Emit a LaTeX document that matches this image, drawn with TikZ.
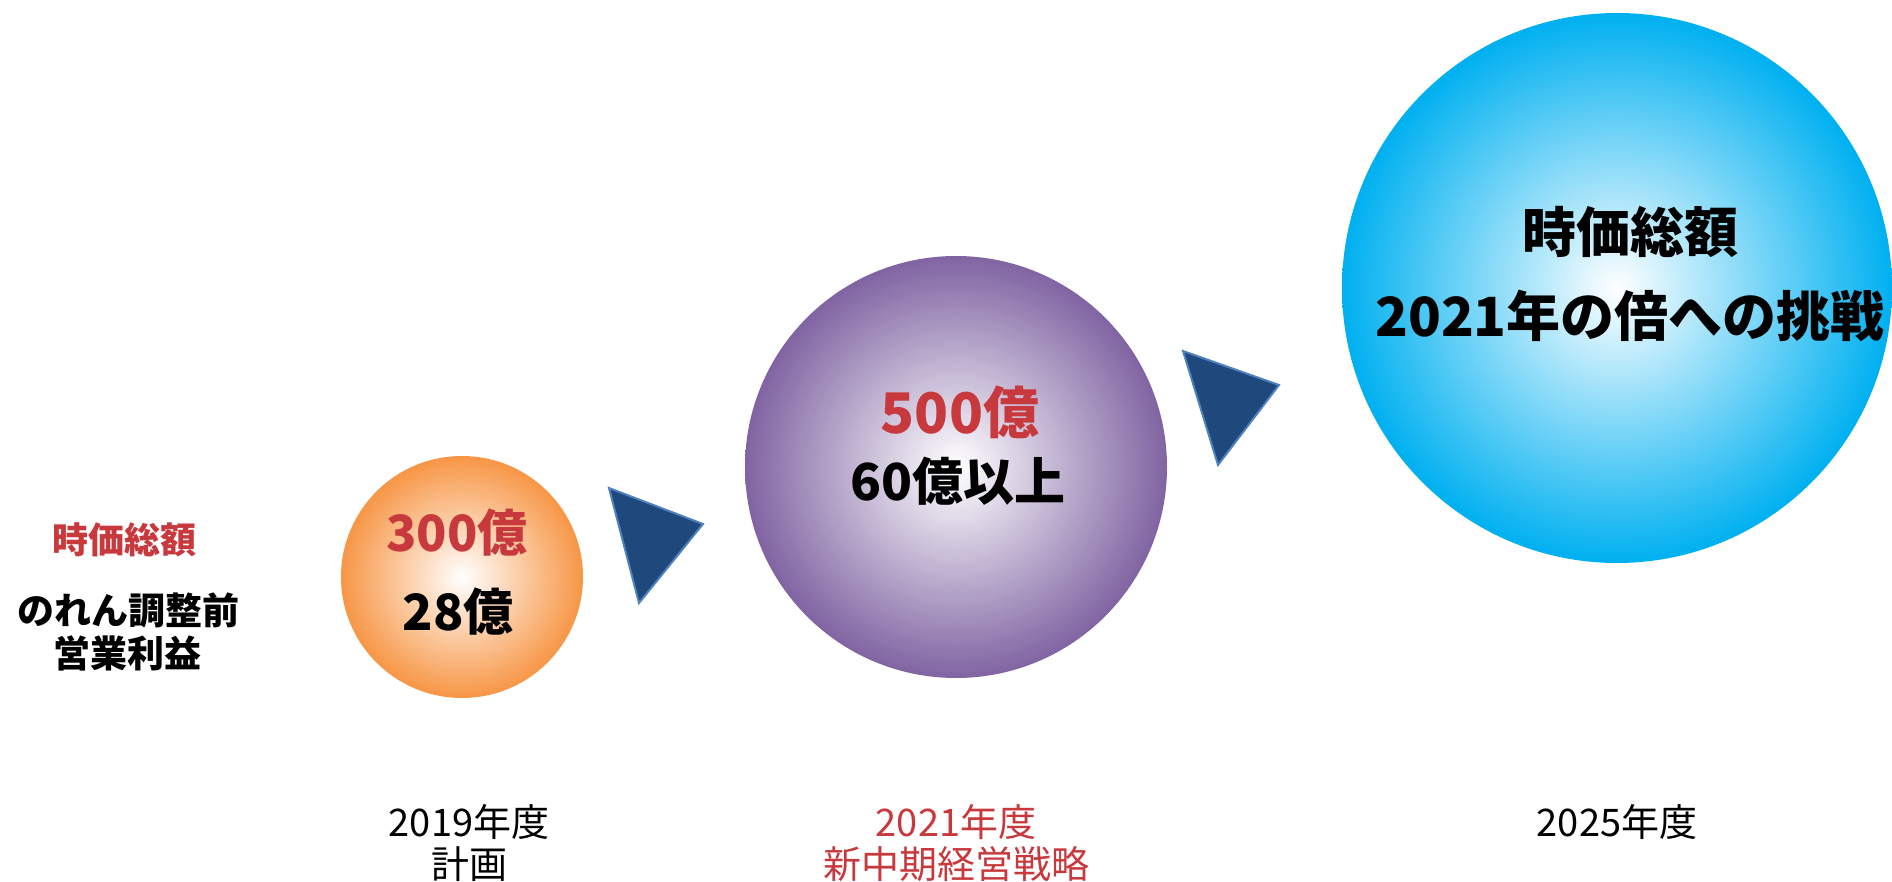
\documentclass[tikz,border=0pt]{standalone}
\usepackage{fontspec}
\newfontfamily\jp{Noto Sans CJK JP}
\definecolor{redtxt}{HTML}{C8393D}
\definecolor{orangeorb}{HTML}{F79646}
\definecolor{purpleorb}{HTML}{8064A2}
\definecolor{blueorb}{HTML}{00B0F0}
\definecolor{trifill}{HTML}{1F497D}
\definecolor{triedge}{HTML}{4F81BD}
\tikzset{
  orb/.style={circle, inner sep=0pt, draw=none, shading=radial, inner color=white, outer color=#1},
  lbl/.style={inner sep=0pt, font=\jp\bfseries},
  yearlbl/.style={inner sep=0pt, font=\jp\fontsize{19}{22}\selectfont},
  tri/.style={fill=trifill, draw=triedge, line width=1pt, line join=miter}
}
\begin{document}
\begin{tikzpicture}[x=0.5pt, y=-0.5pt]
\useasboundingbox (0,0) rectangle (1892,882);

% left labels
\node[lbl, text=redtxt, font=\jp\bfseries\fontsize{18}{20}\selectfont] (mcap) at (125,540) {時価総額};
\node[lbl, font=\jp\bfseries\fontsize{18.5}{21}\selectfont] (op1) at (129,610) {のれん調整前};
\node[lbl, font=\jp\bfseries\fontsize{18.5}{21}\selectfont] (op2) at (128,653) {営業利益};

% orbs
\node[orb=orangeorb, minimum size=242pt*0.5] (o1) at (462,577) {};
\node[orb=purpleorb, minimum size=422pt*0.5] (o2) at (956,467) {};
\node[orb=blueorb, minimum size=550pt*0.5] (o3) at (1617,288) {};

% orb texts
\node[lbl, text=redtxt, font=\jp\bfseries\fontsize{25}{28}\selectfont] (t1a) at (457,533) {300億};
\node[lbl, font=\jp\bfseries\fontsize{25}{28}\selectfont] (t1b) at (458,612) {28億};
\node[lbl, text=redtxt, font=\jp\bfseries\fontsize{28}{31}\selectfont] (t2a) at (960,412) {500億};
\node[lbl, font=\jp\bfseries\fontsize{25.5}{28}\selectfont] (t2b) at (958,481) {60億以上};
\node[lbl, font=\jp\bfseries\fontsize{27}{30}\selectfont] (t3a) at (1630,232) {時価総額};
\node[lbl, font=\jp\bfseries\fontsize{27}{30}\selectfont] (t3b) at (1630,316) {2021年の倍への挑戦};

% triangles
\coordinate (a1) at (609,488);
\coordinate (a2) at (703,524);
\coordinate (a3) at (639,603);
\draw[tri] (a1) -- (a2) -- (a3) -- cycle;
\coordinate (b1) at (1183,351);
\coordinate (b2) at (1279,385);
\coordinate (b3) at (1218,465);
\draw[tri] (b1) -- (b2) -- (b3) -- cycle;

% year labels
\node[yearlbl] (y1) at (469,822) {2019年度};
\node[yearlbl] (y1b) at (469,864) {計画};
\node[yearlbl, text=redtxt] (y2) at (956,822) {2021年度};
\node[yearlbl, text=redtxt] (y2b) at (956,864) {新中期経営戦略};
\node[yearlbl] (y3) at (1617,822) {2025年度};
\end{tikzpicture}
\end{document}
